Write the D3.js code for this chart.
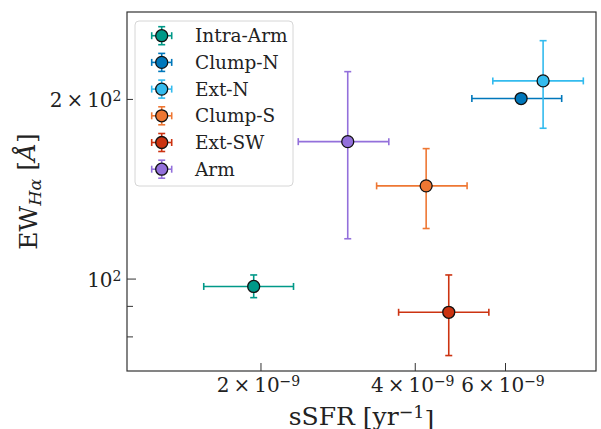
<!DOCTYPE html>
<html>
  <head>
    <title>EW vs sSFR</title>
    <script src="https://cdn.jsdelivr.net/npm/d3@7"></script>
    <style>
      body { margin: 0; background: #fff; }
      text { font-family: 'DejaVu Serif', serif; fill: #222; }
    </style>
  </head>
  <body>
    <svg width="601" height="429" id="mainsvg"></svg>
    <script>
        // regions, plotted in legend order
        const names  = ['Intra-Arm', 'Clump-N', 'Ext-N', 'Clump-S', 'Ext-SW', 'Arm'];
        const colors = ['#009988', '#0077BB', '#33BBEE', '#EE7733', '#CC3311', '#9370DB'];
        // sSFR [yr^-1] with lower / upper error ends
        const ssfr   = [1.94e-9, 6.45e-9, 7.12e-9, 4.21e-9, 4.66e-9, 2.96e-9];
        const ssfrLo = [1.55e-9, 5.17e-9, 5.68e-9, 3.37e-9, 3.72e-9, 2.37e-9];
        const ssfrHi = [2.32e-9, 7.74e-9, 8.53e-9, 5.06e-9, 5.58e-9, 3.56e-9];
        // EW(Halpha) [A] with lower / upper error ends
        const ew     = [97.0, 200.3, 214.4, 143.0, 87.8, 169.6];
        const ewLo   = [92.9, 200.3, 178.6, 121.3, 74.3, 116.6];
        const ewHi   = [101.4, 200.3, 250.4, 165.1, 101.4, 222.2];

        const xTicks = [2e-9, 4e-9, 6e-9];
        const xTickLabels = [['2', '\u22129'], ['4', '\u22129'], ['6', '\u22129']];
        const yMajor = [100];
        const yMinor = [80, 90, 200];
        const yLabelTicks = [100, 200];
        const yTickLabels = [['1', '2'], ['2', '2']];

        const svg = d3.select('#mainsvg');
        const margin = {top: 12, right: 5, bottom: 58, left: 127};
        const width = +svg.attr('width');
        const height = +svg.attr('height');
        const innerWidth = width - margin.left - margin.right;
        const innerHeight = height - margin.top - margin.bottom;

        const xScale = d3.scaleLog().domain([1.098e-9, 9.03e-9]).range([0, innerWidth]);
        const yScale = d3.scaleLog().domain([70.0, 279.7]).range([innerHeight, 0]);

        const g = svg.append('g').attr('transform', `translate(${margin.left}, ${margin.top})`);

        // axes with inward ticks
        const xAxis = d3.axisBottom(xScale).tickValues(xTicks).tickSizeInner(-8).tickSizeOuter(0).tickFormat('');
        g.append('g').attr('transform', `translate(0, ${innerHeight})`).call(xAxis);
        const yAxisMaj = d3.axisLeft(yScale).tickValues(yMajor).tickSizeInner(-9).tickSizeOuter(0).tickFormat('');
        const yAxisMin = d3.axisLeft(yScale).tickValues(yMinor).tickSizeInner(-6).tickSizeOuter(0).tickFormat('');
        g.append('g').call(yAxisMaj);
        g.append('g').call(yAxisMin);
        g.selectAll('.domain').remove();
        g.selectAll('.tick line').attr('stroke', '#333').attr('stroke-width', 1);

        g.append('rect').attr('width', innerWidth).attr('height', innerHeight)
          .attr('fill', 'none').attr('stroke', '#333').attr('stroke-width', 1.2);

        // tick labels: mantissa x 10^exp
        function sciLabel(sel, mant, exp) {
          if (mant !== '1') sel.append('tspan').text(mant + '\u2009\u00d7\u200910');
          else sel.append('tspan').text('10');
          sel.append('tspan').attr('dy', '-0.42em').attr('font-size', '0.7em').text(exp);
        }
        xTicks.forEach((v, i) => {
          const t = g.append('text').attr('x', xScale(v) - 2).attr('y', innerHeight + 21)
            .attr('text-anchor', 'middle').attr('font-size', 20);
          sciLabel(t, xTickLabels[i][0], xTickLabels[i][1]);
        });
        yLabelTicks.forEach((v, i) => {
          const t = g.append('text').attr('x', -5.5).attr('y', yScale(v) + 8)
            .attr('text-anchor', 'end').attr('font-size', 20);
          sciLabel(t, yTickLabels[i][0], yTickLabels[i][1]);
        });

        // axis titles
        const xl = svg.append('text').attr('x', margin.left + innerWidth / 2).attr('y', 425)
          .attr('text-anchor', 'middle').attr('font-size', 25);
        xl.append('tspan').text('sSFR [yr');
        xl.append('tspan').attr('dy', '-0.42em').attr('font-size', '0.7em').text('\u22121');
        xl.append('tspan').attr('dy', '0.42em').text(']');

        const yl = svg.append('text')
          .attr('transform', `translate(37, ${margin.top + innerHeight / 2}) rotate(-90)`)
          .attr('text-anchor', 'middle').attr('font-size', 25);
        yl.append('tspan').text('EW');
        yl.append('tspan').attr('dy', '0.25em').attr('font-size', '0.7em').attr('font-style', 'italic').text('H\u03b1');
        yl.append('tspan').attr('dy', '-0.25em').text(' [');
        yl.append('tspan').attr('font-style', 'italic').text('\u00c5');
        yl.append('tspan').text(']');

        // error bars and markers
        const cap = 3.5;
        names.forEach((n, i) => {
          const c = colors[i];
          const px = xScale(ssfr[i]), py = yScale(ew[i]);
          const eg = g.append('g').attr('stroke', c).attr('stroke-width', 1.6);
          const x0 = xScale(ssfrLo[i]), x1 = xScale(ssfrHi[i]);
          eg.append('line').attr('x1', x0).attr('x2', x1).attr('y1', py).attr('y2', py);
          [x0, x1].forEach(xx => eg.append('line').attr('x1', xx).attr('x2', xx).attr('y1', py - cap).attr('y2', py + cap));
          const y0 = yScale(ewLo[i]), y1 = yScale(ewHi[i]);
          if (Math.abs(y0 - y1) > 0.5) {
            eg.append('line').attr('x1', px).attr('x2', px).attr('y1', y0).attr('y2', y1);
            [y0, y1].forEach(yy => eg.append('line').attr('x1', px - cap).attr('x2', px + cap).attr('y1', yy).attr('y2', yy));
          }
          g.append('circle').attr('cx', px).attr('cy', py).attr('r', 6)
            .attr('fill', c).attr('stroke', '#111').attr('stroke-width', 1.3);
        });

        // legend
        const lg = svg.append('g').attr('transform', 'translate(135, 21)');
        lg.append('rect').attr('width', 158).attr('height', 165).attr('rx', 4)
          .attr('fill', '#fff').attr('fill-opacity', 0.8).attr('stroke', '#d6d6d6');
        names.forEach((n, i) => {
          const cy = 14.7 + i * 26.7;
          const c = colors[i];
          const e = lg.append('g').attr('stroke', c).attr('stroke-width', 1.6);
          e.append('line').attr('x1', 16.7).attr('x2', 36.7).attr('y1', cy).attr('y2', cy);
          e.append('line').attr('x1', 26.7).attr('x2', 26.7).attr('y1', cy - 9).attr('y2', cy + 9);
          [16.7, 36.7].forEach(xx => e.append('line').attr('x1', xx).attr('x2', xx).attr('y1', cy - cap).attr('y2', cy + cap));
          [cy - 9, cy + 9].forEach(yy => e.append('line').attr('x1', 26.7 - cap).attr('x2', 26.7 + cap).attr('y1', yy).attr('y2', yy));
          lg.append('circle').attr('cx', 26.7).attr('cy', cy).attr('r', 6)
            .attr('fill', c).attr('stroke', '#111').attr('stroke-width', 1.3);
          lg.append('text').attr('x', 60).attr('y', cy + 6.5).attr('font-size', 18.5).text(n);
        });
    </script>
  </body>
</html>
